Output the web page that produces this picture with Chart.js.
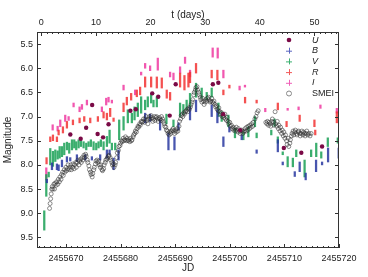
<!DOCTYPE html>
<html><head><meta charset="utf-8">
<script src="https://cdn.jsdelivr.net/npm/chart.js@4.4.1/dist/chart.umd.min.js"></script>
<style>html,body{margin:0;padding:0;background:#fff}#wrap{width:368px;height:277px;position:relative}</style>
</head><body><div id="wrap"><canvas id="c" width="368" height="277"></canvas></div>
<script>
// ---- data (day = JD - JD_BASE) ----
const JD_BASE = 2455660;
const T_ZERO = 2455665.5;           // origin of the top "t (days)" axis
const JD_MIN = 2455664.7, JD_MAX = 2455720;
const MAG_MIN = 5.25, MAG_MAX = 9.72;
const bottomTickStep = 10, topTickStep = 10, magTickStep = 0.5;
const legendLabels = ['U', 'B', 'V', 'R', 'I', 'SMEI'];

// streaks: [day, brightest mag, faintest mag]
const vStreaks = [
[6.03,8.95,9.35],[6.4,8.2,8.65],[6.84,8.15,8.25],
[7.13,7.66,8.0],[7.62,7.72,8.03],[8.05,7.69,7.93],[8.48,7.71,7.88],[8.85,7.62,7.86],[9.27,7.62,7.83],[9.69,7.55,7.79],[10.18,7.53,7.69],[10.6,7.55,7.76],[11.1,7.48,7.69],[11.52,7.48,7.65],[11.89,7.52,7.69],[12.32,7.48,7.65],[12.74,7.48,7.62],[13.23,7.52,7.65],[13.72,7.55,7.69],[14.14,7.52,7.62],[14.57,7.48,7.62],[15.06,7.52,7.69],[15.55,7.55,7.69],[15.97,7.52,7.65],[16.4,7.48,7.62],[16.89,7.52,7.69],[17.5,7.41,7.62],[17.99,7.28,7.55],[18.41,7.55,7.69],[19.02,7.55,7.69],
[19.75,7.07,7.48],[20.55,7.0,7.28],[21.33,6.86,7.13],[22.07,6.93,7.13],[22.56,6.8,7.07],[23.16,6.72,7.0],[23.77,6.59,6.93],[24.5,6.66,6.86],[24.99,6.59,6.8],[25.6,6.52,6.72],[26.03,6.66,6.8],[26.64,6.59,6.8],[28.4,6.95,7.15],[29.69,7.07,7.21],[30.9,6.72,7.0],[31.5,6.75,6.95],[32.1,6.66,6.86],[32.72,6.52,6.8],
[33.82,6.31,6.6],[34.86,6.41,6.62],[35.78,6.5,6.65],[36.69,6.41,6.6],[37.92,6.72,7.0],[38.52,6.9,7.1],[39.74,6.97,7.21],[40.95,7.24,7.44],[42.49,7.32,7.48],[43.4,7.21,7.42],[44.61,7.0,7.21],[44.92,7.34,7.44],
[47.6,7.28,7.38],[48.2,7.05,7.2],[48.8,7.42,7.55],[49.7,7.73,7.79],[50.6,7.83,8.04],[51.55,7.86,8.04],[52.17,7.69,7.83],[53.7,7.9,8.25],[54.9,7.69,7.83],[55.83,7.55,7.83],[56.75,7.73,7.86],[57.95,7.44,7.62],[59.78,7.44,7.55]
];
const bStreaks = [
[6.5,8.3,8.37],[7.44,7.96,8.1],[8.35,7.98,8.1],[8.66,8.0,8.12],[9.27,7.9,8.04],[10.18,7.83,7.94],[10.79,7.85,7.92],[12.01,7.79,7.93],[13.54,7.79,7.9],[14.75,7.83,7.9],[16.27,7.79,7.9],[17.5,7.69,7.86],[17.99,7.69,7.79],
[18.72,7.86,8.1],[19.63,7.69,7.9],[24.5,6.93,7.13],[25.41,6.95,7.1],[27.24,7.07,7.28],[28.77,7.34,7.69],[29.87,7.42,7.69],[30.6,7.13,7.28],[32.72,6.8,7.07],
[33.82,6.66,6.9],[36.69,6.76,7.0],[37.73,6.86,7.13],[38.83,7.42,7.62],[39.93,7.21,7.32],[42.18,7.38,7.48],[44.92,7.69,7.76],
[48.8,7.48,7.73],[49.7,7.94,8.0],[51.9,8.14,8.24],[52.8,7.94,8.14],[53.9,8.17,8.31],[55.8,7.9,8.14],[56.9,7.94,8.0],[58.0,7.65,7.94],[59.95,7.65,7.86]
];
const rStreaks = [
[6.45,7.85,7.98],[7.13,7.42,7.52],[7.62,7.38,7.5],[8.35,7.42,7.52],[8.66,7.28,7.38],[9.45,7.21,7.34],[10.18,7.1,7.24],[11.28,7.07,7.17],[12.5,7.03,7.13],[13.35,7.0,7.1],[14.45,7.03,7.13],[15.85,7.0,7.1],[16.89,6.9,7.03],[17.5,6.93,7.07],[18.1,6.83,7.0],
[18.72,7.03,7.1],[20.55,6.72,6.9],[21.15,6.6,6.76],[21.94,6.52,6.66],[22.98,6.45,6.59],[23.58,6.39,6.55],[24.5,6.18,6.39],[25.6,6.18,6.39],[26.64,6.18,6.41],[27.55,6.2,6.41],[28.46,6.45,6.62],[29.07,6.5,6.66],[30.9,6.1,6.39],[31.7,6.15,6.45],[32.43,6.1,6.39],
[32.72,6.08,6.3],[33.82,5.9,6.1],[36.69,6.04,6.2],[37.73,6.04,6.24],[38.83,6.45,6.55],[39.93,6.35,6.41],[42.8,6.6,6.72],[44.92,6.66,6.72],
[48.8,6.72,6.86],[50.4,7.1,7.21],[52.8,6.97,7.1],[55.5,7.07,7.21],[55.65,7.28,7.38],[59.6,6.9,7.13]
];
const iStreaks = [
[6.4,8.06,8.31],[7.57,7.17,7.28],[8.48,7.2,7.3],[8.96,7.07,7.21],[9.87,6.97,7.1],[10.49,7.0,7.08],[11.4,6.72,6.8],[12.5,6.8,6.9],[12.93,6.75,6.85],[13.84,6.66,6.76],[16.58,6.8,6.9],[17.37,6.62,6.76],[17.8,6.6,6.7],
[18.41,6.66,6.72],[20.55,6.35,6.45],[22.67,6.45,6.55],[23.77,6.08,6.14],[24.5,5.9,6.0],[25.41,5.95,6.05],[26.82,5.79,6.04],[29.07,6.08,6.18],[29.69,6.1,6.24],[30.9,5.97,6.1],[31.81,5.77,5.9],[32.72,6.04,6.18],
[36.87,5.58,5.77],[37.79,5.58,5.79],[38.83,6.04,6.2],[41.8,6.37,6.45],[42.78,6.35,6.39],
[46.5,6.83,6.9],[50.6,6.83,6.87],[52.6,6.8,6.86],[56.6,6.76,6.83],[59.6,6.83,6.93]
];
// U points: [day, mag]
const uPoints = [[10.8,7.37],[12.7,7.46],[13.7,7.23],[14.8,6.76],[15.8,7.36],[16.8,7.43],[17.8,7.16],[21.8,6.88],[22.8,6.85],[25.8,6.52],[26.9,6.59],[29.0,6.98],[30.1,6.33],[36.9,6.33],[37.9,6.3],[38.8,6.95],[41.9,7.28],[49.9,7.65],[53.1,7.75],[56.9,7.62]];
// SMEI points: [day, mag]
const smeiPoints = [
[7.0,8.9],[7.1,8.8],[7.2,8.7],[7.3,8.6],[7.4,8.5],[7.5,8.45],[7.6,8.5],[7.8,8.4],[7.9,8.5],[8.0,8.38],[8.2,8.42],[8.3,8.35],[8.5,8.4],[8.6,8.3],[8.8,8.35],[8.9,8.25],[9.1,8.3],[9.2,8.2],[9.4,8.15],[9.5,8.22],[9.7,8.1],[9.8,8.15],[10.0,8.05],[10.1,8.12],[10.3,8.08],[10.4,8.0],[10.6,8.1],[10.7,8.05],[10.9,8.0],[11.0,8.1],[11.2,8.05],[11.3,7.98],[11.5,8.08],[11.6,8.0],[11.8,7.95],[11.9,8.05],[12.1,7.95],[12.2,7.9],[12.4,8.0],[12.5,7.92],[12.7,7.88],[12.8,7.95],[13.0,7.85],[13.1,7.9],[13.3,7.8],[13.4,7.85],[13.6,7.78],[13.7,7.82],[13.9,7.9],[14.0,7.95],[14.2,8.02],[14.3,8.1],[14.5,8.15],[14.6,8.2],[14.8,8.25],[14.9,8.18],[15.1,8.1],[15.2,8.05],[15.4,7.98],[15.5,7.92],[15.7,7.9],[15.8,7.95],[16.0,7.92],[16.1,8.0],[16.3,8.05],[16.4,8.0],[16.6,8.1],[16.7,8.12],[16.9,8.08],[17.0,8.0],[17.2,7.95],[17.3,7.9],[17.5,7.88],[17.6,7.85],[17.8,7.82],[17.9,7.8],[18.1,7.85],[18.2,7.9],[18.4,7.95],[18.5,8.0],[18.7,7.98],[18.8,8.05],[19.0,8.0],[19.1,7.95],
[19.3,7.85],[19.4,7.75],[19.6,7.7],[19.7,7.62],[19.9,7.6],[20.0,7.55],[20.2,7.5],[20.3,7.52],[20.5,7.45],[20.6,7.5],[20.8,7.48],[20.9,7.42],[21.1,7.5],[21.2,7.45],[21.4,7.5],[21.5,7.48],[21.7,7.52],[21.8,7.45],[22.0,7.5],[22.1,7.48],[22.3,7.42],[22.4,7.38],[22.6,7.35],[22.7,7.3],[22.9,7.32],[23.0,7.25],[23.2,7.2],[23.3,7.22],[23.5,7.15],[23.6,7.18],[23.8,7.1],[23.9,7.12],
[24.1,7.1],[24.2,7.05],[24.4,7.12],[24.5,7.05],[24.7,7.0],[24.8,7.08],[25.0,7.15],[25.1,7.05],[25.3,7.0],[25.4,7.05],[25.6,6.98],[25.7,7.02],[25.9,7.1],[26.0,7.05],[26.2,7.0],[26.3,7.08],[26.5,7.02],[26.6,7.0],[26.8,7.05],[26.9,7.1],[27.1,7.02],[27.2,7.05],[27.4,7.08],[27.5,7.0],[27.7,7.05],[27.8,7.1],[28.0,7.15],[28.1,7.2],[28.3,7.22],[28.4,7.28],[28.6,7.3],[28.7,7.35],[28.9,7.38],[29.0,7.32],[29.2,7.35],[29.3,7.3],[29.5,7.28],[29.6,7.25],[29.8,7.3],[29.9,7.35],[30.1,7.28],[30.2,7.32],[30.4,7.25],[30.5,7.3],[30.7,7.2],[30.8,7.1],[31.0,7.05],[31.1,6.98],[31.3,6.95],[31.4,7.0],[31.6,6.92],[31.7,6.95],[31.9,6.9],[32.0,6.88],[32.2,6.85],[32.3,6.9],[32.5,6.82],[32.6,6.85],[32.8,6.8],[32.9,6.75],
[33.1,6.7],[33.2,6.65],[33.4,6.55],[33.5,6.5],[33.7,6.45],[33.8,6.4],[34.0,6.38],[34.1,6.45],[34.3,6.5],[34.4,6.55],[34.6,6.6],[34.7,6.65],[34.9,6.7],[35.0,6.62],[35.2,6.68],[35.3,6.75],[35.5,6.7],[35.6,6.65],[35.8,6.68],[35.9,6.62],[36.1,6.6],[36.2,6.65],[36.4,6.7],[36.5,6.68],[36.7,6.62],[36.8,6.7],[37.0,6.72],[37.1,6.68],[37.3,6.75],[37.4,6.8],[37.6,6.78],[37.7,6.85],[37.9,6.88],[38.0,6.82],[38.2,6.9],[38.3,6.95],[38.5,6.92],[38.6,7.0],[38.8,6.98],[38.9,7.02],[39.1,6.95],[39.2,7.05],[39.4,7.08],[39.5,7.02],[39.7,7.1],[39.8,7.15],[40.0,7.12],[40.1,7.2],[40.3,7.18],[40.4,7.25],[40.6,7.22],[40.7,7.28],[40.9,7.25],[41.0,7.3],[41.2,7.22],[41.3,7.28],[41.5,7.32],[41.6,7.25],[41.8,7.3],[41.9,7.35],[42.1,7.3],[42.2,7.28],[42.4,7.35],[42.5,7.32],[42.7,7.3],[42.8,7.25],[43.0,7.3],[43.1,7.22],[43.3,7.28],[43.4,7.2],[43.6,7.25],[43.7,7.18],[43.9,7.22],[44.0,7.15],[44.2,7.2],[44.3,7.12],[44.6,7.05],[44.8,7.0],[45.0,6.92],[45.2,6.88],
[46.6,7.12],[46.8,7.15],[46.9,7.1],[47.1,7.18],[47.2,7.12],[47.4,7.15],[47.5,7.2],[47.7,7.1],[47.8,7.05],[48.0,7.12],[48.1,7.18],[48.3,6.9],[48.4,7.15],[48.6,7.2],[48.7,7.1],[48.9,7.25],[49.0,7.18],[49.2,7.3],[49.3,7.22],[49.5,7.35],[49.6,7.28],[49.8,7.4],[49.9,7.32],[50.1,7.45],[50.2,7.38],[50.4,7.5],[50.5,7.58],[50.7,7.45],[50.8,7.62],[51.0,7.55],[51.1,7.48],[51.3,7.4],[51.4,7.35],[51.6,7.3],[51.7,7.38],[51.9,7.32],[52.0,7.28],[52.2,7.35],[52.3,7.38],[52.5,7.32],[52.6,7.3],[52.8,7.35],[52.9,7.4],[53.1,7.35],[53.2,7.3],[53.4,7.38],[53.5,7.32],[53.7,7.35],[53.8,7.4],[54.0,7.35],[54.1,7.3],[54.3,7.38],[54.5,7.35],[54.7,7.4],[54.9,7.35]
];

// ---- styles ----
const COL = {U:'#7a0a46', B:'rgba(40,55,160,0.85)', V:'rgba(25,160,85,0.85)', R:'rgba(242,50,50,0.85)', I:'rgba(238,45,155,0.8)', SMEI:'rgba(45,45,45,0.6)'};
const LEGCOL = {B:'#5a66c0', V:'#3cb070', R:'#f25a5a', I:'#f060b8'};
const FONT = 'Liberation Sans, Arial, sans-serif';

const toBars = s => s.map(r => ({x: JD_BASE + r[0], y: [r[1], r[2]]}));
const toPts = s => s.map(r => ({x: JD_BASE + r[0], y: r[1]}));
const barDs = (label, s, col, order) => ({type:'bar', label, data: toBars(s), backgroundColor: col, borderWidth: 0, barThickness: 1.6, grouped: false, order});

const frameTicks = {
  id: 'frameTicks',
  afterDatasetsDraw(chart) {
    const {ctx, chartArea: a, scales} = chart;
    ctx.save();
    ctx.strokeStyle = '#333'; ctx.lineWidth = 1;
    ctx.strokeRect(a.left + 0.5, a.top + 0.5, a.right - a.left - 1, a.bottom - a.top - 1);
    ctx.beginPath();
    const x = scales.x, xt = scales.xt, y = scales.y;
    for (let v = Math.ceil(x.min); v <= x.max; v++) {
      const px = Math.round(x.getPixelForValue(v)) + 0.5;
      const len = (v % bottomTickStep === 0) ? 4 : 2;
      ctx.moveTo(px, a.bottom); ctx.lineTo(px, a.bottom - len);
    }
    for (let v = Math.ceil(xt.min); v <= xt.max; v++) {
      const px = Math.round(xt.getPixelForValue(v)) + 0.5;
      const len = (v % topTickStep === 0) ? 4 : 2;
      ctx.moveTo(px, a.top); ctx.lineTo(px, a.top + len);
    }
    y.ticks.forEach(t => {
      const py = Math.round(y.getPixelForValue(t.value)) + 0.5;
      ctx.moveTo(a.left, py); ctx.lineTo(a.left + 4, py);
      ctx.moveTo(a.right, py); ctx.lineTo(a.right - 4, py);
    });
    ctx.stroke();
    ctx.restore();
  },
  afterDraw(chart) {
    const ctx = chart.ctx;
    ctx.save();
    const sx = 289, tx = 312, y0 = 40, dy = 10.7;
    legendLabels.forEach((lab, i) => {
      const yy = y0 + i * dy;
      ctx.lineWidth = 1;
      if (lab === 'U') {
        ctx.fillStyle = COL.U; ctx.beginPath(); ctx.arc(sx, yy, 2.3, 0, Math.PI * 2); ctx.fill();
      } else if (lab === 'SMEI') {
        ctx.strokeStyle = '#888'; ctx.beginPath(); ctx.arc(sx, yy, 2.5, 0, Math.PI * 2); ctx.stroke();
      } else {
        ctx.strokeStyle = LEGCOL[lab]; ctx.beginPath();
        ctx.moveTo(sx - 3, yy + 0.5); ctx.lineTo(sx + 3, yy + 0.5);
        ctx.moveTo(sx + 0.5, yy - 3); ctx.lineTo(sx + 0.5, yy + 3); ctx.stroke();
      }
      ctx.fillStyle = '#222'; ctx.textBaseline = 'middle'; ctx.textAlign = 'left';
      ctx.font = (lab === 'SMEI' ? '' : 'italic ') + '9px ' + FONT;
      ctx.fillText(lab, tx, yy);
    });
    ctx.restore();
  }
};

Chart.defaults.font.family = FONT;
Chart.defaults.color = '#222';

new Chart(document.getElementById('c'), {
  type: 'scatter',
  data: {
    datasets: [
      {type:'scatter', label:'U', data: toPts(uPoints), pointRadius: 2.2, pointBackgroundColor: COL.U, pointBorderColor: COL.U, pointBorderWidth: 0, order: 0},
      {type:'scatter', label:'SMEI', data: toPts(smeiPoints), pointRadius: 2, pointBackgroundColor: 'rgba(0,0,0,0)', pointBorderColor: COL.SMEI, pointBorderWidth: 0.9, order: 1},
      barDs('B', bStreaks, COL.B, 2),
      barDs('V', vStreaks, COL.V, 3),
      barDs('R', rStreaks, COL.R, 4),
      barDs('I', iStreaks, COL.I, 5)
    ]
  },
  options: {
    responsive: false, animation: false, devicePixelRatio: 1,
    layout: {padding: {left: 0, right: 29, top: 0, bottom: 0}},
    plugins: {legend: {display: false}, tooltip: {enabled: false}},
    scales: {
      x: {type:'linear', position:'bottom', min: JD_MIN, max: JD_MAX, offset: false,
          grid: {display: false, drawTicks: false}, border: {display: false},
          ticks: {stepSize: bottomTickStep, includeBounds: false, autoSkip: false, maxRotation: 0, padding: 5,
                  font: {size: 9}, color: '#222', callback: v => String(v)},
          title: {display: true, text: 'JD', font: {size: 10}, color: '#222', padding: {top: 0, bottom: 3}},
          afterFit: s => { s.height = 29; }},
      xt: {type:'linear', position:'top', axis:'x', min: JD_MIN - T_ZERO, max: JD_MAX - T_ZERO,
          grid: {display: false, drawTicks: false}, border: {display: false},
          ticks: {stepSize: topTickStep, includeBounds: false, autoSkip: false, maxRotation: 0, padding: 4,
                  font: {size: 9}, color: '#222', callback: v => String(v)},
          title: {display: true, text: 't (days)', font: {size: 10}, color: '#222', padding: {top: 9.5, bottom: 0}},
          afterFit: s => { s.height = 32; }},
      y: {type:'linear', position:'left', reverse: true, min: MAG_MIN, max: MAG_MAX,
          grid: {display: false, drawTicks: false}, border: {display: false},
          ticks: {stepSize: magTickStep, includeBounds: false, padding: 4, font: {size: 9}, color: '#222',
                  callback: v => v.toFixed(1)},
          title: {display: true, text: 'Magnitude', font: {size: 10}, color: '#222', padding: {top: 2, bottom: 0}},
          afterFit: s => { s.width = 37; }}
    }
  },
  plugins: [frameTicks]
});
</script>
</body></html>
